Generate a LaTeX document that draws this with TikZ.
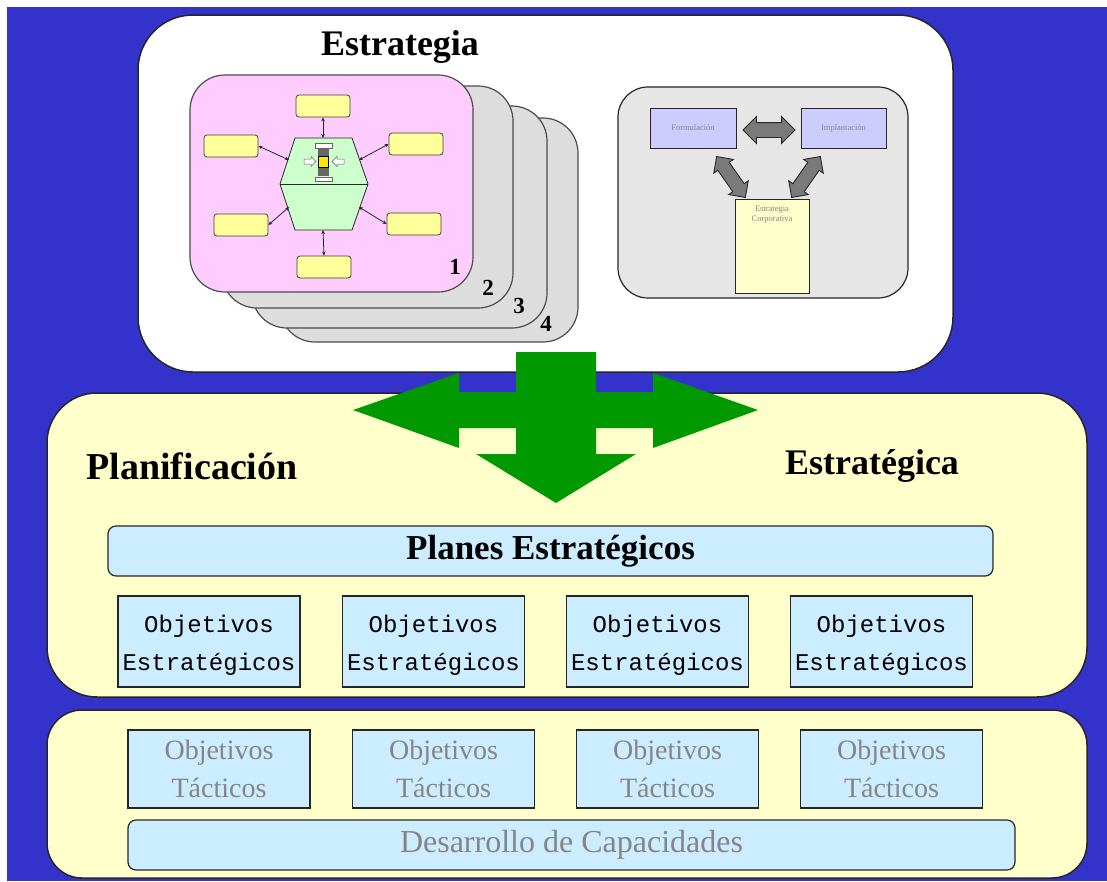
\documentclass[tikz,border=0pt]{standalone}
\usepackage{fontspec}
\setmainfont{Liberation Serif}
\newfontfamily\monof{Liberation Mono}
\usetikzlibrary{arrows.meta,shapes.arrows}
\definecolor{bgblue}{HTML}{3333CC}
\definecolor{paleyellow}{HTML}{FFFFCC}
\definecolor{paleblue}{HTML}{CCECFF}
\definecolor{pinkc}{HTML}{FFCCFF}
\definecolor{cardgray}{HTML}{DDDDDD}
\definecolor{greenarr}{HTML}{009900}
\definecolor{hexgreen}{HTML}{CCFFCC}
\definecolor{smallyel}{HTML}{FFFF99}
\definecolor{lavender}{HTML}{CCCCFF}
\definecolor{panelgray}{HTML}{E6E6E6}
\definecolor{txtgray}{HTML}{858585}
\definecolor{arrgray}{HTML}{7A7A7A}
\tikzset{
  bigbox/.style={draw=black!85,line width=1.5pt,fill=paleyellow},
  card/.style={draw=black!70,line width=1.2pt,fill=cardgray,rounded corners=35pt},
  bluebox/.style={draw=black!85,line width=1.2pt,fill=paleblue,inner sep=0pt,align=center},
  estobj/.style={bluebox,minimum width=182pt,minimum height=91pt,font=\monof\fontsize{24}{38}\selectfont},
  tacobj/.style={bluebox,minimum width=182pt,minimum height=78pt,text=txtgray,font=\fontsize{28}{38}\selectfont},
  ybox/.style={draw=black!75,line width=0.8pt,fill=smallyel,rounded corners=3pt,minimum width=54pt,minimum height=22pt,inner sep=0pt},
  thinarr/.style={{Stealth[length=4pt,width=3.5pt]}-{Stealth[length=4pt,width=3.5pt]},line width=0.8pt,black!85},
  cardnum/.style={font=\bfseries\fontsize{23}{23}\selectfont},
  heading/.style={font=\bfseries\fontsize{36}{40}\selectfont},
  blockarr/.style={double arrow,draw=black!85,fill=arrgray,line width=0.9pt,inner sep=6.5pt,double arrow head extend=5pt},
  tinytxt/.style={font=\fontsize{8.5}{10.5}\selectfont,text=txtgray,align=center}
}
\begin{document}
\begin{tikzpicture}[x=1pt,y=-1pt]
\useasboundingbox (0,0) rectangle (1107,881);
\fill[bgblue] (7,7) rectangle (1107,881);

% top white box
\draw[draw=black!85,line width=1.5pt,fill=white,rounded corners=55pt] (138,15) rectangle (953,372);
\node[heading] (title) at (400,47) {Estrategia};

% stacked cards
\draw[card] (280,118) rectangle (578,342);
\draw[card] (252,106) rectangle (547,328);
\draw[card] (222,86) rectangle (513,308);
\draw[card,fill=pinkc] (190,75) rectangle (473,292);
\node[cardnum] (n1) at (455,267) {1};
\node[cardnum] (n2) at (488,288) {2};
\node[cardnum] (n3) at (519,306) {3};
\node[cardnum] (n4) at (546,324) {4};

% hexagon
\filldraw[fill=hexgreen,draw=black!85,line width=0.8pt] (295,138) -- (352,138) -- (368,184) -- (352,230) -- (295,230) -- (280,184) -- cycle;
\draw[black!85,line width=0.8pt] (280,184) -- (368,184);
\coordinate (hN) at (323,138);
\coordinate (hS) at (323,230);
\coordinate (hNW) at (289,160);
\coordinate (hNE) at (359,160);
\coordinate (hSW) at (289,207);
\coordinate (hSE) at (359,207);
% icon in hexagon
\fill[black!60] (318,149) rectangle (329,176);
\filldraw[fill=white,draw=black!60,line width=0.5pt] (315,143) rectangle (332,148);
\filldraw[fill=yellow!90!orange,draw=black,line width=0.5pt] (318.5,156) rectangle (328.5,167);
\filldraw[fill=white,draw=black!60,line width=0.5pt] (304,159) -- (311,159) -- (311,156.5) -- (316,161.5) -- (311,166.5) -- (311,164) -- (304,164) -- cycle;
\filldraw[fill=white,draw=black!60,line width=0.5pt] (344,159) -- (337,159) -- (337,156.5) -- (332,161.5) -- (337,166.5) -- (337,164) -- (344,164) -- cycle;
\filldraw[fill=white,draw=black!60,line width=0.5pt] (315,177) rectangle (332,181);

% yellow boxes
\node[ybox] (yT) at (323,106) {};
\node[ybox] (yLU) at (231,146) {};
\node[ybox] (yRU) at (416,144) {};
\node[ybox] (yLL) at (241,225) {};
\node[ybox] (yRL) at (414,224) {};
\node[ybox] (yB) at (324,267) {};
\draw[thinarr] (yT.south) -- (hN);
\draw[thinarr] (yLU.east) -- (hNW);
\draw[thinarr] (yRU.west) -- (hNE);
\draw[thinarr] (yLL.east) -- (hSW);
\draw[thinarr] (yRL.west) -- (hSE);
\draw[thinarr] (yB.north) -- (hS);

% right panel
\draw[draw=black!85,line width=1.2pt,fill=panelgray,rounded corners=30pt] (618,87) rectangle (908,298);
\node[draw=black!85,line width=1pt,fill=lavender,minimum width=86pt,minimum height=40pt,inner sep=0pt,tinytxt] (form) at (693,128) {Formulación};
\node[draw=black!85,line width=1pt,fill=lavender,minimum width=85pt,minimum height=40pt,inner sep=0pt,tinytxt] (impl) at (843.5,128) {Implantación};
\node[draw=black!85,line width=1pt,fill=paleyellow,minimum width=74pt,minimum height=94pt,inner sep=0pt] (corp) at (772,246) {};
\node[tinytxt,anchor=north] (corptxt) at (772,202) {Estrategia\\Corporativa};
\node[blockarr,inner sep=7pt,double arrow head extend=6pt,minimum height=52pt] (aFI) at (769,130) {};
\node[blockarr,minimum height=50pt,rotate=-55] (aFC) at (731,177) {};
\node[blockarr,minimum height=50pt,rotate=55] (aIC) at (806,177) {};

% planning box
\draw[bigbox,rounded corners=50pt] (47,393) rectangle (1087,697);
% lower box
\draw[bigbox,rounded corners=35pt] (47,710) rectangle (1087,878);

% green arrows
\fill[greenarr] (516,352) -- (596,352) -- (596,392) -- (653,392) -- (653,373) -- (758,410) -- (653,448) -- (653,428) -- (596,428) -- (596,454) -- (636,454) -- (556,503) -- (476,454) -- (516,454) -- (516,428) -- (459,428) -- (459,448) -- (353,410) -- (459,373) -- (459,392) -- (516,392) -- cycle;

\node[heading,font=\bfseries\fontsize{38}{40}\selectfont] (plan) at (192,466) {Planificación};
\node[heading] (estr) at (872,466) {Estratégica};

\node[bluebox,rounded corners=8pt,minimum width=885pt,minimum height=50pt,font=\bfseries\fontsize{35}{38}\selectfont] (planes) at (550.5,551) {Planes Estratégicos};

\node[estobj] (oe1) at (209,641.5) {\rule{0pt}{24pt}Objetivos\\Estratégicos};
\node[estobj] (oe2) at (433.5,641.5) {\rule{0pt}{24pt}Objetivos\\Estratégicos};
\node[estobj] (oe3) at (657.5,641.5) {\rule{0pt}{24pt}Objetivos\\Estratégicos};
\node[estobj] (oe4) at (881.5,641.5) {\rule{0pt}{24pt}Objetivos\\Estratégicos};

\node[tacobj] (ot1) at (219,769) {Objetivos\\Tácticos};
\node[tacobj] (ot2) at (443.5,769) {Objetivos\\Tácticos};
\node[tacobj] (ot3) at (667.5,769) {Objetivos\\Tácticos};
\node[tacobj] (ot4) at (891.5,769) {Objetivos\\Tácticos};

\node[bluebox,rounded corners=8pt,minimum width=887pt,minimum height=50pt,text=txtgray,font=\fontsize{32}{36}\selectfont] (desa) at (571.5,845) {Desarrollo de Capacidades};
\end{tikzpicture}
\end{document}
